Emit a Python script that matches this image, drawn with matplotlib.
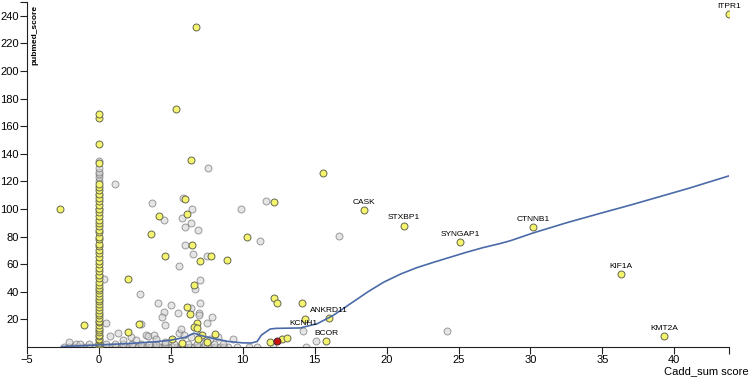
"""
Scatter of Cadd_sum score vs pubmed_score with a smoothed trend line.
"""

import matplotlib
matplotlib.use('Agg')
import matplotlib.pyplot as plt

plt.rcParams['font.family'] = ['Liberation Sans', 'DejaVu Sans']

# ---------------------------------------------------------------------------
# Data
# ---------------------------------------------------------------------------
# grey points (not highlighted)
grey_x = [-2.4, -2.1, -1.8, -1.5, -1.2, -0.9, -0.6, -0.3, 0.3, 0.6, 0.9, 1.2,
          1.5, 1.8, 2.1, 2.4, 2.7, 3.0, 3.3, 3.6, 3.9, 4.2, 4.5, 4.8, 5.1, 5.4,
          5.7, 6.0, 6.3, 6.6, 6.9, 7.2, 7.5, 7.8, 8.1, 8.4, 8.7, 9.0, 9.6, 10.4,
          -1.6, -0.7, 0.5, 1.1, 1.7, 2.3, 2.9, 3.5, 4.0, 4.6, 5.2, 5.8, 6.2,
          6.8, 7.4, 8.0, 8.6,
          -2.1, -1.3, 0.8, 1.3, 1.7, 2.2, 2.6, 3.3, 3.4, 3.8, 4.0, 4.6, 5.6,
          6.4, 7.0, 7.7, 8.3, 9.3, 0.5,
          1.1, 7.55, 0.35, 2.85, 2.9, 3.7, 4.5, 5.55, 4.1, 4.5, 4.4, 5.0, 5.5,
          4.6, 5.85, 6.5, 5.8, 6.4, 6.0, 6.9, 6.0, 6.55, 7.5, 9.9, 11.2, 11.6,
          6.7, 7.0, 6.4, 7.0, 6.95, 6.95, 7.85, 7.5, 5.7, 5.9, 7.1, 16.7, 24.2,
          15.1, 14.4, 11.0, 12.1,
          0, 0, 0, 0, 0, 0, 0, 0, 0]
grey_y = [0, 0, 0, 0, 0, 0, 0, 0, 0, 0, 0, 0,
          0, 0, 0, 0, 0, 0, 0, 0, 0, 0, 0, 0, 0, 0,
          0, 0, 0, 0, 0, 0, 0, 0, 0, 0, 0, 0, 0, 0,
          2, 2, 2, 2, 2, 2, 2, 2, 2, 2, 2, 2, 2,
          2, 2, 2, 2,
          3.6, 2.5, 8, 10, 5, 7.3, 5, 8.7, 8, 9, 6, 3.5, 10,
          7, 9, 6, 7, 5.8, 17.4,
          118, 130, 49, 38.5, 17, 104, 92, 59, 32, 25.5, 22, 30.5, 24.6,
          16, 108, 100, 93.6, 90, 87, 85, 74, 67.6, 66, 100, 77, 106,
          42, 48.6, 28, 32, 25, 23, 22, 17.5, 13, 8.7, 7, 80.5, 11.6,
          4.4, 0, 0, 0,
          120, 123, 125, 127, 130, 135, 52, 100, 110]

# yellow points (highlighted genes)
yellow_x = [0] * 60 + [
    -2.7, -1.04, 2.0, 2.0, 2.8, 3.6, 4.2, 4.6, 5.95, 6.1, 6.45, 7.0, 7.8,
    8.9, 10.3, 6.6, 6.1, 6.3, 6.8, 6.6, 6.8, 7.15, 6.9, 7.5, 8.1, 5.1, 5.8,
    6.75, 5.35, 6.4, 12.2, 12.2, 12.4, 14.1, 14.3, 11.9, 12.7, 13.1, 15.6]
yellow_y = [0, 1, 2, 3, 5, 6, 8, 9, 11, 12, 14, 16, 18, 19, 21, 23, 25, 27,
            29, 31, 33, 35, 37, 39, 41, 43, 45, 47, 50, 52, 55, 57, 60, 62,
            65, 68, 70, 73, 75, 78, 80, 83, 85, 88, 90, 92, 95, 98, 100, 103,
            106, 108, 111, 114, 116, 118, 133, 147, 166, 169] + [
    100, 16, 49, 11, 17, 82, 95, 66, 107, 96.5, 74, 62.5, 66,
    63, 80, 45, 29, 24, 17.5, 14.5, 13.5, 8.7, 5.8, 3.6, 9.4, 5.8, 3,
    232, 172.6, 135.6, 105, 35.5, 32, 32, 20, 3.6, 5.8, 6.5, 126]

# labelled genes
gene_names = ['ITPR1', 'CASK', 'STXBP1', 'SYNGAP1', 'CTNNB1', 'KIF1A',
              'KMT2A', 'ANKRD11', 'BCOR']
gene_x = [43.8, 18.4, 21.2, 25.1, 30.2, 36.3, 39.3, 16.0, 15.8]
gene_y = [241, 99, 88, 76, 87, 53, 8, 21, 4.4]

# labelled grey gene
grey_gene_name = 'KCNH1'
grey_gene_x = 14.2
grey_gene_y = 11.6

# selected gene (red)
red_x = [12.4]
red_y = [4.4]

# smoothed trend
trend_x = [-2.6, -1, 0, 2, 4, 5, 6, 6.6, 7.2, 7.8, 9, 10, 10.6, 11.0, 11.3,
           11.9, 12.3, 14.0, 15.2, 16.3, 17.5, 18.7, 19.8, 21.0, 22.1, 23.3,
           24.4, 25.5, 26.7, 27.9, 28.6, 30.2, 32.5, 34.9, 37, 39, 41, 43.8]
trend_y = [0.3, 1, 1.5, 2.5, 3.8, 5, 7, 10, 8, 6.5, 4, 3, 2.9, 4, 8.7,
           13, 13.5, 13.8, 17, 23, 31.5, 40, 47, 53, 57.5, 61.5,
           65, 68.5, 72, 75, 77, 82.7, 90, 97, 103, 109, 115, 124]

x_ticks = [-5, 0, 5, 10, 15, 20, 25, 30, 35, 40]
y_ticks = [20, 40, 60, 80, 100, 120, 140, 160, 180, 200, 220, 240]

# ---------------------------------------------------------------------------
# Plot
# ---------------------------------------------------------------------------
fig = plt.figure(figsize=(7.51, 3.77), dpi=100)
ax = fig.add_axes([27 / 751, 30 / 377, 702 / 751, 345 / 377])

grey_face = (0.82, 0.82, 0.82, 0.55)
grey_edge = (0.42, 0.42, 0.42, 0.65)
ax.scatter(grey_x, grey_y, s=25, facecolor=grey_face, edgecolor=grey_edge,
           linewidth=0.7, zorder=2)
ax.scatter([grey_gene_x], [grey_gene_y], s=25, facecolor=grey_face,
           edgecolor=grey_edge, linewidth=0.7, zorder=2)
ax.scatter(yellow_x + gene_x, yellow_y + gene_y, s=25, facecolor='#f4f46e',
           edgecolor='#66664f', linewidth=0.7, zorder=3)
ax.scatter(red_x, red_y, s=25, facecolor='#c81414', edgecolor='#4a2020',
           linewidth=0.7, zorder=4)
ax.plot(trend_x, trend_y, color='#4a6aa8', linewidth=1.2, zorder=5)

for name, gx, gy in zip(gene_names, gene_x, gene_y):
    ax.annotate(name, (gx, gy), xytext=(0, 3), textcoords='offset points',
                ha='center', va='bottom', fontsize=6, zorder=6)
ax.annotate(grey_gene_name, (grey_gene_x, grey_gene_y), xytext=(0, 3),
            textcoords='offset points', ha='center', va='bottom', fontsize=6,
            zorder=6)

ax.set_xlim(-5, 43.8)
ax.set_ylim(0, 250)
ax.set_xticks(x_ticks)
ax.set_yticks(y_ticks)
ax.set_xticks([43.8], minor=True)
ax.set_yticks([250], minor=True)
ax.tick_params(axis='both', which='both', labelsize=8, length=5, width=0.8,
               color='#222222', pad=1)

for side in ['top', 'right']:
    ax.spines[side].set_visible(False)
for side in ['left', 'bottom']:
    ax.spines[side].set_linewidth(0.8)
    ax.spines[side].set_color('#222222')

fig.text(38 / 751, 1 - 5 / 377, 'pubmed_score', rotation=90, ha='right',
         va='top', fontsize=6, fontweight='bold')
fig.text(749 / 751, 1 - 374 / 377, 'Cadd_sum score', ha='right',
         va='baseline', fontsize=8)

plt.savefig('out.png', dpi=100)
plt.close()
